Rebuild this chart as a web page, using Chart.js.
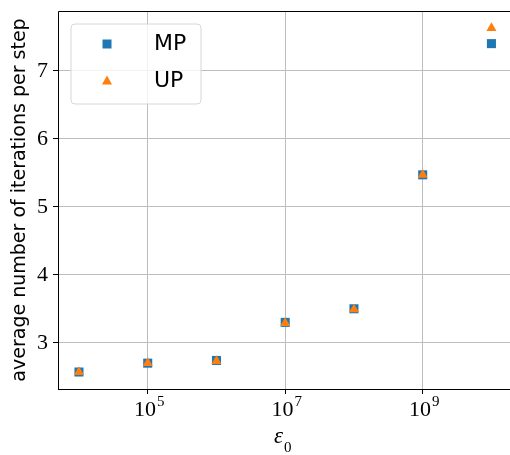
<!DOCTYPE html>
<html lang="en">
<head>
<meta charset="UTF-8" />
<title>Iterations per step</title>
<script src="https://cdn.jsdelivr.net/npm/chart.js@4.4.1/dist/chart.umd.min.js"></script>
<style>
  html, body { margin: 0; padding: 0; background: #fff; }
  #wrap { width: 510px; height: 455px; }
</style>
</head>
<body>
<div id="wrap"><canvas id="myChart" width="510" height="455"></canvas></div>
<script>
// data
const eps0 = [1e4, 1e5, 1e6, 1e7, 1e8, 1e9, 1e10];
const mpIters = [2.57, 2.70, 2.74, 3.30, 3.50, 5.47, 7.40];
const upIters = [2.57, 2.70, 2.73, 3.29, 3.49, 5.47, 7.63];
const seriesNames = ["MP", "UP"];
const xTickExps = [5, 7, 9];
const yTicks = [3, 4, 5, 6, 7];

const BLUE = "#1f77b4";
const ORANGE = "#ff7f0e";
const SERIF = "'Liberation Serif', 'DejaVu Serif', serif";
const SANS = "'DejaVu Sans', sans-serif";

function toPoints(ys) {
  return eps0.map((x, i) => ({ x: x, y: ys[i] }));
}

// frame, x tick labels with superscripts, x title, legend box
const decorations = {
  id: "decorations",
  afterDraw(chart) {
    const ctx = chart.ctx;
    const area = chart.chartArea;
    const xs = chart.scales.x;
    ctx.save();

    // spines
    ctx.strokeStyle = "#000";
    ctx.lineWidth = 1;
    ctx.beginPath();
    ctx.moveTo(area.left + 0.5, area.bottom + 0.5);
    ctx.lineTo(area.left + 0.5, area.top + 0.5);
    ctx.lineTo(area.right + 2, area.top + 0.5);
    ctx.moveTo(area.left, area.bottom + 0.5);
    ctx.lineTo(area.right + 2, area.bottom + 0.5);
    ctx.stroke();

    // x tick labels 10^n
    ctx.fillStyle = "#000";
    ctx.textBaseline = "alphabetic";
    for (const e of xTickExps) {
      const px = xs.getPixelForValue(Math.pow(10, e));
      ctx.font = "22px " + SERIF;
      const wBase = ctx.measureText("10").width;
      ctx.font = "15px " + SERIF;
      const wExp = ctx.measureText(String(e)).width;
      const start = px - (wBase + wExp) / 2 + 1;
      ctx.font = "22px " + SERIF;
      ctx.textAlign = "left";
      ctx.fillText("10", start, 416);
      ctx.font = "15px " + SERIF;
      ctx.fillText(String(e), start + wBase + 1, 406);
    }

    // x title  eps_0
    ctx.font = "italic 23px " + SERIF;
    const wEps = ctx.measureText("\u03b5").width;
    const cx = (area.left + 510) / 2;
    ctx.textAlign = "left";
    ctx.fillText("\u03b5", cx - 10, 443);
    ctx.font = "15px " + SERIF;
    ctx.fillText("0", cx - 10 + wEps + 1, 452);

    // legend
    const bx = 71, by = 24, bw = 130, bh = 80, r = 4;
    ctx.beginPath();
    ctx.moveTo(bx + r, by);
    ctx.arcTo(bx + bw, by, bx + bw, by + bh, r);
    ctx.arcTo(bx + bw, by + bh, bx, by + bh, r);
    ctx.arcTo(bx, by + bh, bx, by, r);
    ctx.arcTo(bx, by, bx + bw, by, r);
    ctx.closePath();
    ctx.fillStyle = "rgba(255,255,255,0.8)";
    ctx.fill();
    ctx.strokeStyle = "#d6d6d6";
    ctx.lineWidth = 1;
    ctx.stroke();

    const ds = chart.data.datasets;
    const rows = [44, 81];
    ds.forEach((d, i) => {
      const y = rows[i];
      ctx.fillStyle = d.backgroundColor;
      ctx.beginPath();
      if (d.pointStyle === "rect") {
        ctx.rect(107 - 4.5, y - 4.5, 9, 9);
      } else {
        ctx.moveTo(107, y - 5.5);
        ctx.lineTo(107 + 5, y + 3.5);
        ctx.lineTo(107 - 5, y + 3.5);
        ctx.closePath();
      }
      ctx.fill();
      ctx.fillStyle = "#000";
      ctx.font = "22px " + SANS;
      ctx.textAlign = "left";
      ctx.textBaseline = "middle";
      ctx.fillText(d.label, 154, y);
    });

    ctx.restore();
  }
};

const ctx = document.getElementById("myChart").getContext("2d");
new Chart(ctx, {
  type: "scatter",
  data: {
    datasets: [
      {
        label: seriesNames[0],
        data: toPoints(mpIters),
        pointStyle: "rect",
        radius: 6.4,
        backgroundColor: BLUE,
        borderWidth: 0,
        order: 1
      },
      {
        label: seriesNames[1],
        data: toPoints(upIters),
        pointStyle: "triangle",
        radius: 5.8,
        backgroundColor: ORANGE,
        borderWidth: 0,
        order: 0
      }
    ]
  },
  options: {
    responsive: false,
    animation: false,
    devicePixelRatio: 1,
    layout: { autoPadding: false, padding: { left: 0, right: 0, top: 11, bottom: 0 } },
    plugins: {
      legend: { display: false },
      tooltip: { enabled: false }
    },
    elements: { point: { hoverRadius: 6 } },
    scales: {
      x: {
        type: "logarithmic",
        bounds: "data",
        min: Math.pow(10, 3.695),
        max: Math.pow(10, 10.27),
        afterBuildTicks: (s) => { s.ticks = xTickExps.map((e) => ({ value: Math.pow(10, e) })); },
        afterFit: (s) => { s.height = 66; s.paddingLeft = 0; s.paddingRight = 0; },
        ticks: { callback: () => "", autoSkip: false },
        grid: { color: "#bdbdbd", lineWidth: 1, tickColor: "#000", tickLength: 5, drawTicks: true },
        border: { display: false }
      },
      y: {
        type: "linear",
        bounds: "data",
        min: 2.32,
        max: 7.88,
        afterBuildTicks: (s) => { s.ticks = yTicks.map((v) => ({ value: v })); },
        afterFit: (s) => { s.width = 58; s.paddingTop = 0; s.paddingBottom = 0; },
        ticks: {
          color: "#000",
          padding: 5,
          font: { family: SERIF, size: 22 },
          callback: (v) => String(v)
        },
        grid: { color: "#bdbdbd", lineWidth: 1, tickColor: "#000", tickLength: 5, drawTicks: true },
        border: { display: false },
        title: {
          display: true,
          text: "average number of iterations per step",
          color: "#000",
          font: { family: SANS, size: 19 },
          padding: { top: 9, bottom: 0 }
        }
      }
    }
  },
  plugins: [decorations]
});
</script>
</body>
</html>
